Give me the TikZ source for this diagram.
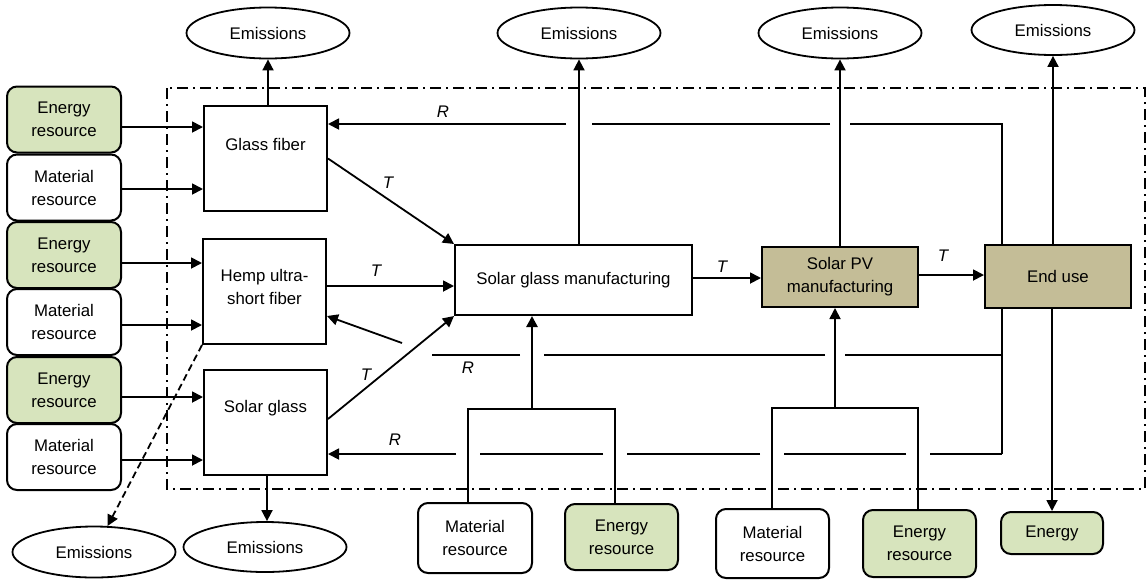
\documentclass[tikz,border=0pt]{standalone}
\usepackage{fontspec}
\setmainfont{Liberation Sans}
\usetikzlibrary{arrows.meta,calc,shapes.geometric}
\definecolor{energyfill}{HTML}{D7E4BD}
\definecolor{stagefill}{HTML}{C4BD97}
\begin{document}
\begin{tikzpicture}[x=1pt,y=-1pt,
  every node/.style={font=\fontsize{16.8}{23}\selectfont, align=center, inner sep=0pt},
  resbox/.style={draw, line width=2pt, rounded corners=10pt, minimum width=114pt, minimum height=66pt},
  energybox/.style={resbox, fill=energyfill},
  matbox/.style={resbox, fill=white},
  procbox/.style={draw, line width=2pt, fill=white, minimum width=123pt, minimum height=105pt},
  stagebox/.style={draw, line width=2pt, fill=stagefill},
  emis/.style={draw, ellipse, line width=1.8pt, minimum width=163pt, minimum height=51pt},
  link/.style={line width=1.8pt},
  flow/.style={link, -{Triangle[length=11pt,width=11pt]}},
  lab/.style={font=\itshape\fontsize{16.8}{20}\selectfont},
  boundary/.style={line width=1.8pt, dash pattern=on 11pt off 5pt on 2pt off 5pt}
]
\useasboundingbox (0,0) rectangle (1147,579);

% system boundary
\draw[boundary] (167,88) rectangle (1145,489);

% emission ellipses
\node[emis] (e1) at (268,33) {Emissions};
\node[emis] (e2) at (579,33) {Emissions};
\node[emis] (e3) at (840,33) {Emissions};
\node[emis, minimum height=50pt] (e4) at (1053,30) {Emissions};
\node[emis] (e5) at (94,552) {Emissions};
\node[emis, minimum height=50pt] (e6) at (265,547) {Emissions};

% resource inputs on the left
\node[energybox] (el1) at (64,119.5) {Energy\\resource};
\node[matbox]    (ml1) at (64,187.5) {Material\\resource};
\node[energybox] (el2) at (64,255) {Energy\\resource};
\node[matbox]    (ml2) at (64,322) {Material\\resource};
\node[energybox] (el3) at (64,390) {Energy\\resource};
\node[matbox]    (ml3) at (64,457) {Material\\resource};

% left-hand processes
\node[procbox] (gf) at (265.5,158.5) {};
\node at ([yshift=14pt]gf.center) {Glass fiber};
\node[procbox] (hemp) at (264.5,291.5) {};
\node at ([yshift=4.5pt]hemp.center) {Hemp ultra-\\short fiber};
\node[procbox] (sg) at (265.5,422) {};
\node at ([yshift=14pt]sg.center) {Solar glass};

% main chain
\node[draw, line width=2pt, fill=white, minimum width=237pt, minimum height=70pt] (sgm) at (573.5,280) {Solar glass manufacturing};
\node[stagebox, minimum width=156pt, minimum height=60pt] (pv) at (840,277) {Solar PV\\manufacturing};
\node[stagebox, minimum width=146pt, minimum height=63pt] (endu) at (1058,276.5) {End use};

% bottom resources
\node[matbox, minimum height=70pt]    (mat1) at (475,538) {Material\\resource};
\node[energybox, minimum width=113pt] (en1)  at (621.5,537) {Energy\\resource};
\node[matbox, minimum width=113pt, minimum height=69pt] (mat2) at (772.5,543.5) {Material\\resource};
\node[energybox, minimum width=113pt, minimum height=67pt] (en2) at (919.5,543.5) {Energy\\resource};
\node[energybox, minimum width=102pt, minimum height=42pt] (energy) at (1052,533) {Energy};

% inputs to the left-hand processes
\draw[flow] (el1.east |- 0,127) -- (gf.west |- 0,127);
\draw[flow] (ml1.east |- 0,189) -- (gf.west |- 0,189);
\draw[flow] (el2.east |- 0,263) -- (hemp.west |- 0,263);
\draw[flow] (ml2.east |- 0,325) -- (hemp.west |- 0,325);
\draw[flow] (el3.east |- 0,397) -- (sg.west |- 0,397);
\draw[flow] (ml3.east |- 0,460) -- (sg.west |- 0,460);

% emissions
\draw[flow] (gf.north -| e1.south) -- (e1.south);
\draw[flow] (sg.south -| 267,0) -- (e6.north -| 267,0);
\draw[link, dash pattern=on 7pt off 4pt, -{Triangle[length=11pt,width=11pt]}] (hemp.south west) -- (e5);
\draw[flow] (sgm.north -| e2.south) -- (e2.south);
\draw[flow] (pv.north) -- (e3.south);
\draw[flow] (endu.north -| e4.south) -- (e4.south);
\draw[flow] (endu.south -| energy.north) -- (energy.north);

% transfers T
\draw[flow] (gf.east) -- (sgm.north west);
\node[lab] at (388,183) {T};
\draw[flow] (hemp.east |- 0,286) -- (sgm.west |- 0,286);
\node[lab] at (376,271) {T};
\draw[flow] (sg.east |- 0,419) -- (sgm.south west);
\node[lab] at (366,375) {T};
\draw[flow] (sgm.east |- 0,278) -- (pv.west |- 0,278);
\node[lab] at (722,267) {T};
\draw[flow] (pv.east |- 0,275) -- (endu.west |- 0,275);
\node[lab] at (943,256) {T};

% resource feeds from below
\coordinate (sgmfeed) at (532,409);
\coordinate (pvfeed) at (835,408);
\draw[link] ([xshift=-7pt]mat1.north) |- (sgmfeed) -| ([xshift=-6.5pt]en1.north);
\draw[link, line width=2.6pt, -{Triangle[length=11pt,width=11pt]}] (sgmfeed) -- (sgmfeed |- sgm.south);
\draw[link] ([xshift=-0.5pt]mat2.north) |- (pvfeed) -| ([xshift=-1.5pt]en2.north);
\draw[flow] (pvfeed) -- (pvfeed |- pv.south);

% recycling loops R
\coordinate (rx) at (1002,0);
\coordinate (hret) at (402,343);
\coordinate (rmidend) at (432,355);

% upper loop to glass fiber
\draw[link] (endu.north -| rx) |- ([xshift=10pt]pv.north |- 0,124);
\draw[link] ([xshift=-10pt]pv.north |- 0,124) -- ([xshift=13pt]e2.south |- 0,124);
\draw[flow] ([xshift=-13pt]e2.south |- 0,124) -- (gf.east |- 0,124);
\node[lab] at (443,112) {R};

% vertical return below end use
\draw[link] (endu.south -| rx) -- (rx |- 0,454);

% middle loop to hemp
\draw[link] (rx |- 0,355) -- ([xshift=10pt]pvfeed |- 0,355);
\draw[link] ([xshift=-10pt]pvfeed |- 0,355) -- ([xshift=12pt]sgmfeed |- 0,355);
\draw[link] ([xshift=-12pt]sgmfeed |- 0,355) -- (rmidend);
\node[lab] at (468,368) {R};
\draw[flow] (hret) -- (hemp.east |- 0,316);

% lower loop to solar glass
\draw[link] (rx |- 0,454) -- (930,454);
\draw[link] (906,454) -- (784,454);
\draw[link] (760,454) -- (627,454);
\draw[link] (603,454) -- (480,454);
\draw[flow] (456,454) -- (sg.east |- 0,454);
\node[lab] at (395,440) {R};
\end{tikzpicture}
\end{document}
